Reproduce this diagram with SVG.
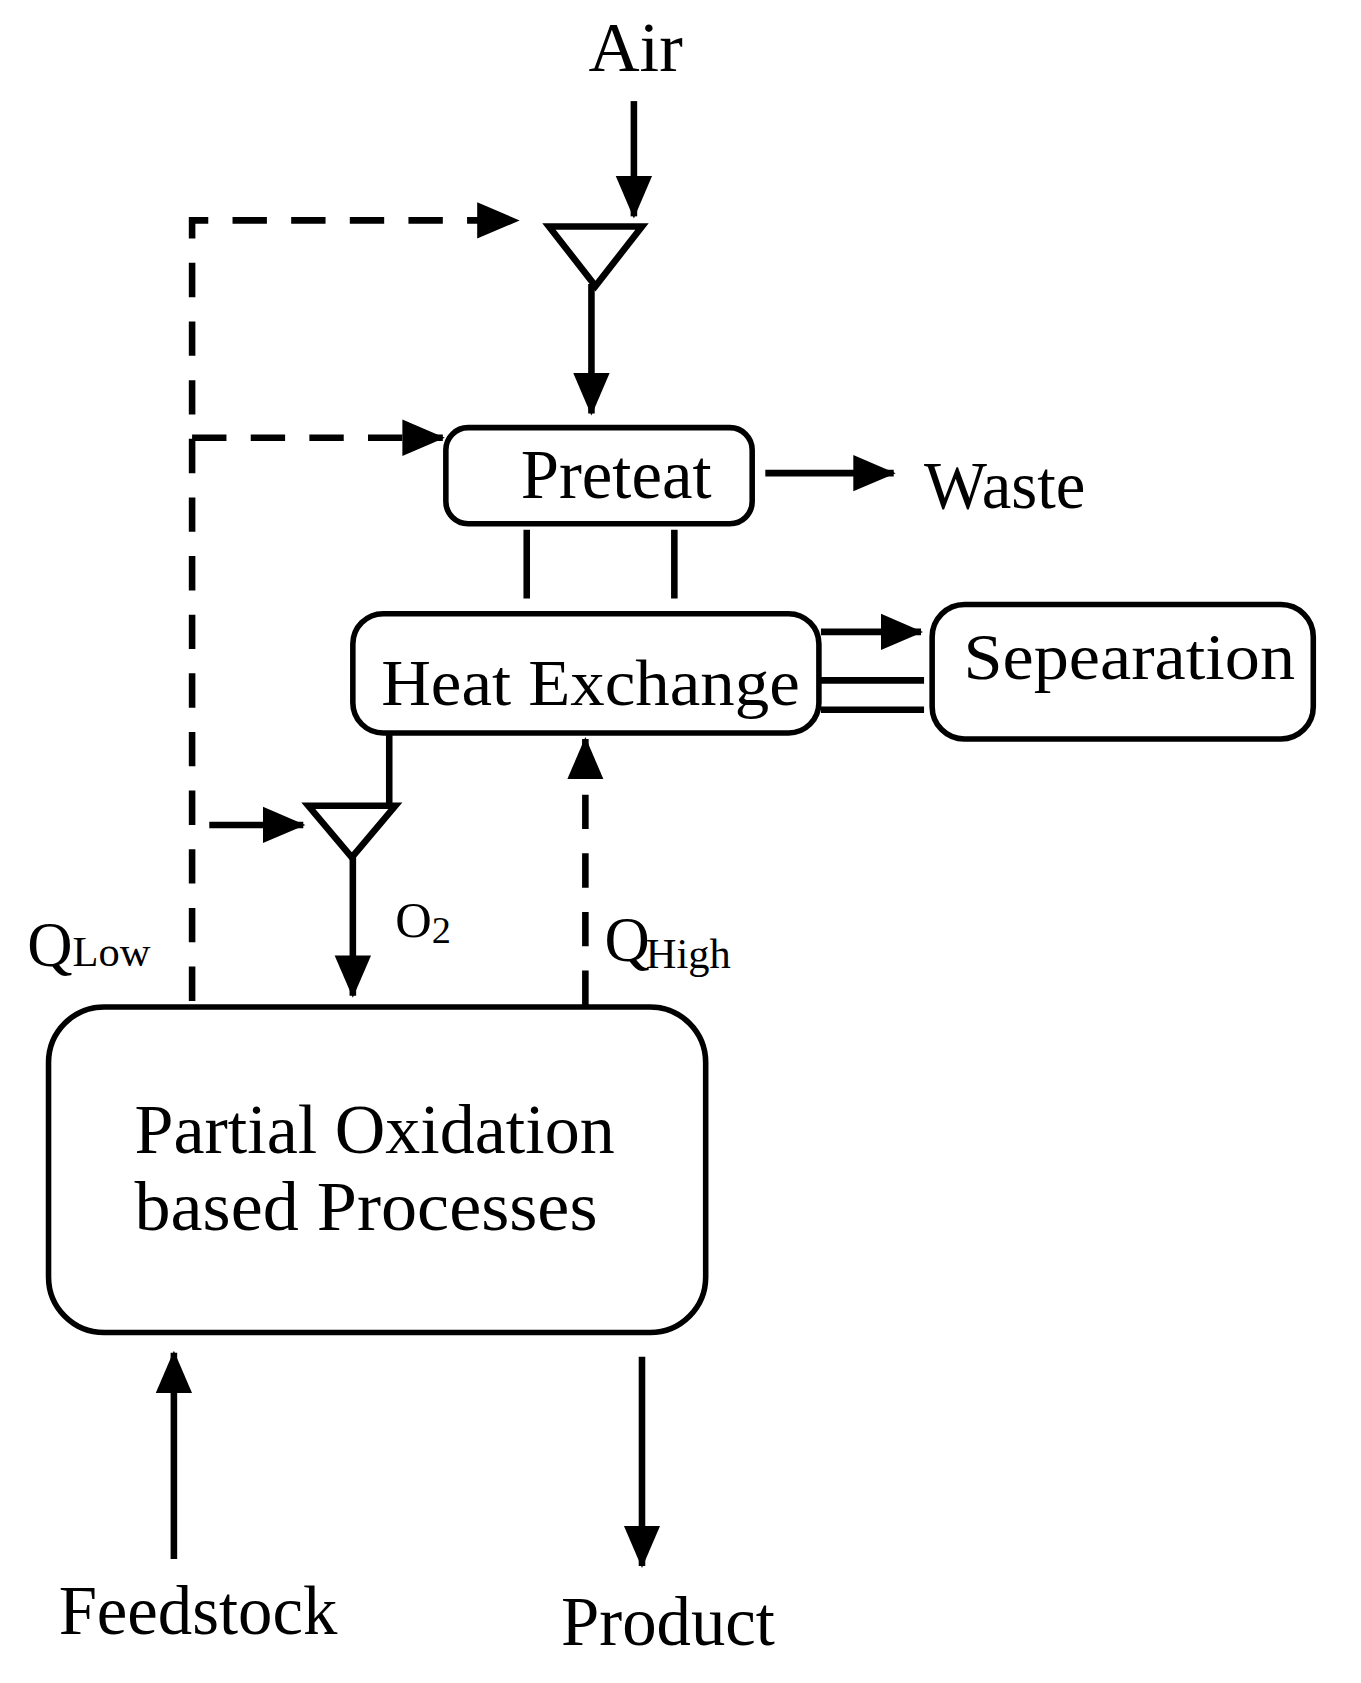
<svg xmlns="http://www.w3.org/2000/svg" width="1361" height="1683" viewBox="0 0 1361 1683">
<style>
text{font-family:"Liberation Serif","Times New Roman",serif;fill:#000}
.box{fill:none;stroke:#000;stroke-width:5.5}
.ln{fill:none;stroke:#000;stroke-width:6.5}
.ds{fill:none;stroke:#000;stroke-width:6.5;stroke-dasharray:34 24}
</style>
<defs>
<marker id="ah" markerUnits="userSpaceOnUse" markerWidth="44" markerHeight="40" refX="40" refY="20" orient="auto"><path d="M0,2 L42,20 L0,38 Z" fill="#000"/></marker>
</defs>
<rect width="1361" height="1683" fill="#fff"/>
<g transform="scale(1.011)">
<g id="connectors">
<line class="ln" x1="627" y1="100" x2="627" y2="214" marker-end="url(#ah)"/>
<polyline class="ds" points="190,990 190,218 512,218" marker-end="url(#ah)"/>
<line class="ds" x1="190" y1="433" x2="438" y2="433" marker-end="url(#ah)"/>
<line class="ln" x1="585" y1="281" x2="585" y2="409" marker-end="url(#ah)"/>
<line class="ln" x1="757" y1="468" x2="884" y2="468" marker-end="url(#ah)"/>
<line class="ln" x1="521" y1="524" x2="521" y2="592"/>
<line class="ln" x1="667" y1="524" x2="667" y2="592"/>
<line class="ln" x1="812" y1="625" x2="911" y2="625" marker-end="url(#ah)"/>
<line class="ln" x1="812" y1="673" x2="914" y2="673"/>
<line class="ln" x1="812" y1="702" x2="914" y2="702"/>
<line class="ln" x1="385" y1="727" x2="385" y2="797"/>
<line class="ln" x1="207" y1="816" x2="300" y2="816" marker-end="url(#ah)"/>
<line class="ln" x1="349" y1="848" x2="349" y2="985" marker-end="url(#ah)"/>
<line class="ds" x1="579" y1="994" x2="579" y2="731" marker-end="url(#ah)"/>
<line class="ln" x1="172" y1="1542" x2="172" y2="1338" marker-end="url(#ah)"/>
<line class="ln" x1="635" y1="1342" x2="635" y2="1549" marker-end="url(#ah)"/>
</g>
<g id="air"><text x="582" y="70" font-size="70">Air</text></g>
<g id="mixer1"><path class="ln" d="M543,224 L635,224 L589,283 Z"/></g>
<g id="mixer2"><path class="ln" d="M305,797 L391,797 L348,848 Z"/></g>
<g id="preteat"><rect class="box" x="441" y="423" width="303" height="95" rx="22"/><text x="515" y="493" font-size="68">Preteat</text></g>
<g id="waste"><text x="914" y="502" font-size="66">Waste</text></g>
<g id="heatexchange"><rect class="box" x="349" y="607" width="461" height="118" rx="30"/><text x="377" y="697" font-size="64" textLength="414" lengthAdjust="spacingAndGlyphs">Heat Exchange</text></g>
<g id="separation"><rect class="box" x="922" y="598" width="377" height="133" rx="32"/><text x="953" y="672" font-size="64" textLength="328" lengthAdjust="spacingAndGlyphs">Sepearation</text></g>
<g id="o2"><text x="391" y="927" font-size="50">O<tspan font-size="38" dy="6">2</tspan></text></g>
<g id="qlow"><text x="27" y="955" font-size="62">Q<tspan font-size="42">Low</tspan></text></g>
<g id="qhigh"><text x="598" y="951" font-size="62">Q<tspan font-size="42" dx="-4" dy="6">High</tspan></text></g>
<g id="pox"><rect class="box" x="48" y="996" width="650" height="322" rx="55"/>
<text x="133" y="1140" font-size="70" textLength="475" lengthAdjust="spacingAndGlyphs">Partial Oxidation</text>
<text x="133" y="1217" font-size="70" textLength="458" lengthAdjust="spacingAndGlyphs">based Processes</text></g>
<g id="feedstock"><text x="58" y="1616" font-size="68">Feedstock</text></g>
<g id="product"><text x="555" y="1627" font-size="68">Product</text></g>
</g>
</svg>
